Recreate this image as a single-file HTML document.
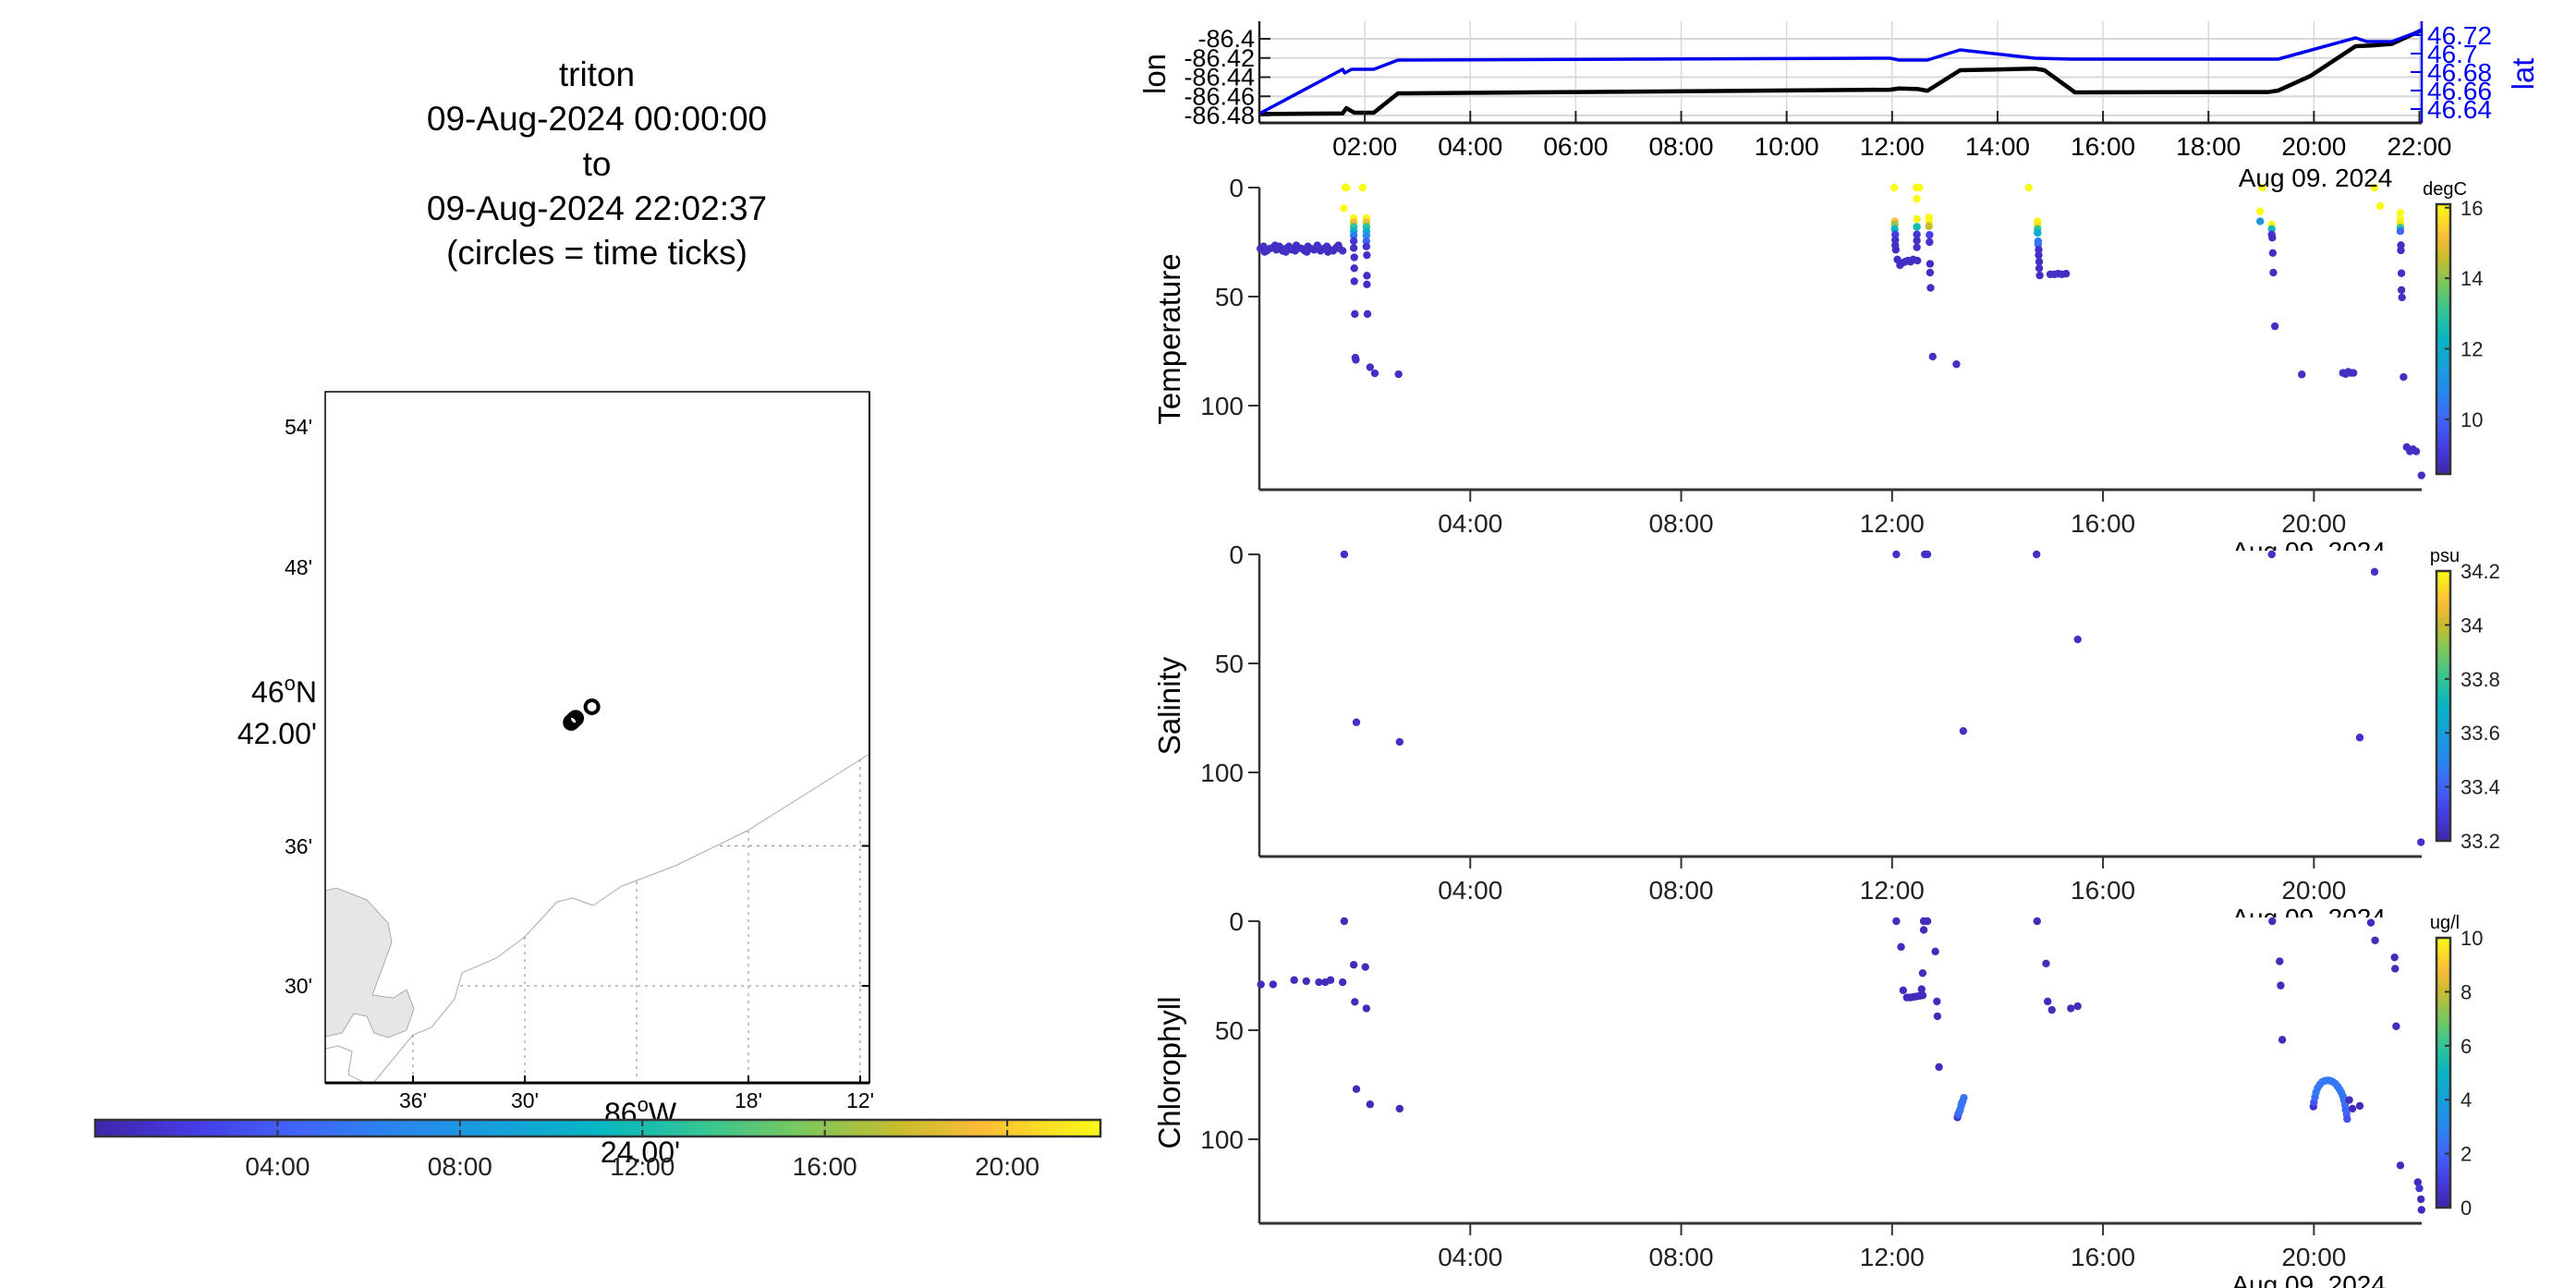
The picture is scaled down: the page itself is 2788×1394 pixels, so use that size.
<!DOCTYPE html>
<html><head><meta charset="utf-8"><title>triton</title>
<style>
html,body{margin:0;padding:0;background:#fff;}
svg{display:block;font-family:"Liberation Sans",Arial,sans-serif;}
</style></head>
<body>
<svg id="fig" width="2788" height="1394" viewBox="0 0 2788 1394" xmlns="http://www.w3.org/2000/svg">
<defs>
<linearGradient id="parH" x1="0" y1="0" x2="1" y2="0"></linearGradient>
<linearGradient id="parV" x1="0" y1="1" x2="0" y2="0"></linearGradient>
</defs>
<g font-size="37" text-anchor="middle" fill="#000">
<text x="646" y="93">triton</text>
<text x="646" y="141">09-Aug-2024 00:00:00</text>
<text x="646" y="190">to</text>
<text x="646" y="238">09-Aug-2024 22:02:37</text>
<text x="646" y="286">(circles = time ticks)</text>
</g>
<g id="map"></g>
<g id="tcb"></g>
<g id="top"></g>
<g id="ptemp"></g>
<g id="psal"></g>
<g id="pchl"></g>
<text x="2506" y="202" font-size="28" text-anchor="middle">Aug 09. 2024</text>
</svg>
<script>
// ---------- data ----------
const lonTimes=[0,1.58,1.65,1.8,2.17,2.63,11.96,12.13,12.49,12.67,13.29,14.71,14.89,15.47,19.14,19.32,19.94,20.79,21.09,21.48,22.04];
const lonVals=[-86.4784,-86.4778,-86.4723,-86.4771,-86.4771,-86.4569,-86.4531,-86.4518,-86.4524,-86.4542,-86.4328,-86.4311,-86.4328,-86.4559,-86.4555,-86.4540,-86.4386,-86.4077,-86.4070,-86.4053,-86.3911];
const latTimes=[0,1.58,1.62,1.75,2.17,2.63,11.96,12.13,12.67,13.29,14.71,15.4,19.32,20.79,21.0,21.48,22.04];
const latVals=[46.635,46.683,46.679,46.683,46.683,46.693,46.695,46.693,46.693,46.704,46.695,46.694,46.694,46.717,46.713,46.713,46.725];
const lonTicks=[-86.4,-86.42,-86.44,-86.46,-86.48];
const lonTickLabels=["-86.4","-86.42","-86.44","-86.46","-86.48"];
const latTicks=[46.72,46.7,46.68,46.66,46.64];
const latTickLabels=["46.72","46.7","46.68","46.66","46.64"];
const topHourTicks=[2,4,6,8,10,12,14,16,18,20,22];
const topHourLabels=["02:00","04:00","06:00","08:00","10:00","12:00","14:00","16:00","18:00","20:00","22:00"];
const panelHourTicks=[4,8,12,16,20];
const panelHourLabels=["04:00","08:00","12:00","16:00","20:00"];
const depthTicks=[0,50,100];

const tempTime=[0.02,0.08,0.14,0.2,0.26,0.32,0.38,0.44,0.5,0.56,0.62,0.68,0.74,0.8,0.86,0.92,0.98,1.04,1.1,1.16,1.22,1.28,1.34,1.4,1.46,1.52,1.58,0.1,0.3,0.5,0.7,0.9,1.1,1.3,1.5,
1.63,1.65,1.6,
1.79,1.79,1.79,1.79,1.79,1.79,1.79,1.8,1.8,1.8,1.81,1.82,1.83,
1.96,2.03,2.03,2.03,2.03,2.03,2.03,2.03,2.04,2.04,2.04,2.05,2.1,2.19,2.64,
12.04,12.05,12.05,12.05,12.06,12.06,12.06,12.07,12.1,12.15,12.2,12.25,12.3,12.35,12.4,
12.46,12.52,12.47,12.47,12.47,12.47,12.47,12.47,12.48,
12.7,12.7,12.7,12.71,12.71,12.72,12.72,12.73,12.77,13.22,
14.59,14.76,14.76,14.76,14.76,14.77,14.77,14.78,14.78,14.79,14.79,14.8,15.0,15.08,15.15,15.22,15.3,
19.02,18.98,18.98,19.2,19.2,19.2,19.21,19.22,19.23,19.26,19.77,20.55,20.6,20.65,20.7,20.75,
21.15,21.26,21.64,21.64,21.64,21.64,21.64,21.65,21.65,21.66,21.66,21.67,21.7,21.76,21.82,21.88,21.94,22.04];
const tempDepth=[28,27,29,28,27.5,28.5,27,29,28,27,28.5,29,27.5,28,29,27,28,28.5,27.5,29,28,27,28.5,29,27.5,28,29,29.5,26.5,29.5,26.5,29.5,26.5,29.5,26.5,
0,0,9.5,
14,16,18,20,22,24.5,27.7,32,37,43,58,78,79,
0,14,16,18,20,22,24.5,27,31,40.4,44.4,58,82.4,85.2,85.6,
0,15.5,17,19,21.5,24,26.5,28.5,33,35.6,34.5,34,33.5,34,33,
0,0,5.2,14.4,18,21.5,24.3,27.4,33.5,
13.7,15.5,17.7,21.7,25,35,39,46,77.5,81,
0,15.5,17,19,20.8,24.6,26,28.5,31,34,37,40.3,39.8,39.8,39.5,39.8,39.5,
0,10.9,15.5,17,19,21.5,23,30,39,63.6,85.7,85,85.5,84.5,85,85,
0,8.5,11.6,14.4,16.5,18.4,20,26.4,28.8,39.3,47,50.4,86.9,119,121,120,121,132];
const tempVal=[8.8,8.8,8.8,8.8,8.8,8.8,8.8,8.8,8.8,8.8,8.8,8.8,8.8,8.8,8.8,8.8,8.8,8.8,8.8,8.8,8.8,8.8,8.8,8.8,8.8,8.8,8.8,8.8,8.8,8.8,8.8,8.8,8.8,8.8,8.8,
16.3,16.3,16.2,
16,15,13,12,10.5,9,8.8,8.8,8.8,8.8,8.8,8.8,8.8,
16.3,16,15,13,12,11,10,8.9,8.8,8.8,8.8,8.8,8.8,8.8,8.8,
16.3,15.2,14.2,12.3,9.2,8.9,8.8,8.8,8.8,8.8,8.8,8.8,8.8,8.8,8.8,
16.3,16.3,16.2,16,12.5,9,8.8,8.8,8.8,
16.1,16,14.5,9.2,8.9,8.8,8.8,8.8,8.8,8.8,
16.3,16,15.8,13,12,10.5,10.3,8.9,8.8,8.8,8.8,8.8,8.8,8.8,8.8,8.8,8.8,
16.3,16.2,11.3,16,12.5,9,8.8,8.8,8.8,8.8,8.8,8.8,8.8,8.8,8.8,8.8,
16.3,16.2,16.2,16.1,15.8,13,10,8.8,8.8,8.8,8.8,8.8,8.8,8.8,8.8,8.8,8.8,8.8];

const salTime=[1.61,1.84,2.66,12.08,12.62,12.67,14.74,15.52,13.35,19.2,21.15,20.87,22.03];
const salDepth=[0,77,86,0,0,0,0,39,81,0,8,84,132];
const salVal=[33.25,33.25,33.25,33.25,33.25,33.25,33.25,33.25,33.25,33.25,33.25,33.25,33.25];

const chlTime=[0.03,0.26,0.66,0.89,1.13,1.25,1.35,1.58,1.61,1.79,2.01,1.81,2.03,1.84,2.1,2.66,
12.08,12.6,12.67,12.6,12.17,12.82,12.58,12.21,12.56,12.28,12.34,12.4,12.46,12.52,12.58,12.85,12.86,12.89,
13.24,13.25,13.26,13.28,13.29,13.31,13.32,13.34,13.36,
14.75,14.92,14.95,15.03,15.39,15.52,
19.21,19.35,19.37,19.4,
19.99,20.0,20.02,20.04,20.07,20.11,20.16,20.21,20.26,20.31,20.36,20.41,20.45,20.49,20.52,20.55,20.57,20.59,20.6,20.62,20.63,
20.67,20.73,20.87,21.08,21.16,21.53,21.54,21.56,21.64,21.97,22.0,22.03,22.04];
const chlDepth=[29,29,27,27.5,28,28,27,28,0,20,21,37,40,77,84,86,
0,0,0,4,11.8,13.9,23.8,31.7,31.2,35,35,34.8,34.5,34.3,34,36.8,43.6,66.9,
90,89,88.1,87.2,86.4,84.6,83.5,82.6,81,
0,19.4,36.8,40.7,40,39,
0,18.4,29.5,54.4,
85,83,80.7,78.5,76.5,75,73.7,73.2,73,73.2,73.7,74.6,75.8,77.2,78.6,80.3,82.2,84.3,86.4,88.5,90.7,
82,86,84.7,0.7,8.8,16.6,21.8,48.2,112,119.7,122.5,127.5,132.4];
const chlVal=[0.3,0.3,0.3,0.3,0.3,0.3,0.3,0.3,0.3,0.3,0.3,0.3,0.3,0.3,0.3,0.3,
0.3,0.3,0.3,0.3,0.3,0.3,0.3,0.3,0.3,0.3,0.3,0.3,0.3,0.3,0.3,0.3,0.3,0.3,
0.6,1.5,2.2,2.4,2.5,2.5,2.5,2.4,2.4,
0.3,0.3,0.3,0.3,0.3,0.3,
0.3,0.3,0.3,0.3,
0.6,1.6,2.3,2.5,2.5,2.6,2.6,2.6,2.6,2.6,2.6,2.6,2.5,2.5,2.5,2.4,2.4,2.3,2.2,2.0,1.5,
0.3,0.3,0.3,0.3,0.3,0.3,0.3,0.3,0.3,0.3,0.6,0.3,0.3];

const mapCircleLon=[-86.4585,-86.4575,-86.4565,-86.4555,-86.4545,-86.4400];
const mapCircleLat=[46.6895,46.6902,46.6910,46.6918,46.6925,46.7007];
const tcbTicks=[4,8,12,16,20];
const tcbLabels=["04:00","08:00","12:00","16:00","20:00"];

// ---------- helpers ----------
const NS="http://www.w3.org/2000/svg";
function mk(tag,attrs,parent){const e=document.createElementNS(NS,tag);for(const k in attrs)e.setAttribute(k,attrs[k]);parent.appendChild(e);return e;}
const par=[[0,[62,38,168]],[0.1,[70,60,230]],[0.2,[65,100,250]],[0.3,[40,135,238]],[0.4,[22,160,220]],[0.5,[5,182,195]],[0.6,[50,197,150]],[0.7,[120,200,95]],[0.8,[200,188,45]],[0.88,[250,188,55]],[1,[249,251,20]]];
function parula(f){f=Math.max(0,Math.min(1,f));for(let i=1;i<par.length;i++){if(f<=par[i][0]){const a=par[i-1],b=par[i];const u=(f-a[0])/(b[0]-a[0]);const c=a[1].map((v,j)=>Math.round(v+(b[1][j]-v)*u));return `rgb(${c[0]},${c[1]},${c[2]})`;}}return "rgb(249,251,20)";}
["parH","parV"].forEach(id=>{const g=document.getElementById(id);par.forEach(p=>{const c=parula(p[0]);mk("stop",{offset:p[0],"stop-color":c},g);});});

const TX0=1363,TX1=2621,TMAX=22.044;
const tx=h=>TX0+(Math.min(h,TMAX))/TMAX*(TX1-TX0);

// ---------- map ----------
(function(){
const g=document.getElementById("map");
const L=352,R=941,T=424,B=1172;
const mx=lonMin=>689+(24-lonMin)/6*121;
const my=latMin=>766-(latMin-42)/6*151;
const lonX=lon=>mx((-lon-86)*60);
const latY=lat=>my((lat-46)*60);
const isl="352,964 364,961 397,974 420,999 424,1020 403,1077 426,1080 440,1071 448,1092 440,1115 420,1123 405,1118 397,1100 383,1097 370,1118 352,1122";
const island=mk("polygon",{points:isl,fill:"#e6e6e6",stroke:"#999","stroke-width":0.8},g);


const coast=mk("polyline",{points:"941,816 809,899 731,937 673,959 642,980 620,972 603,976 568,1014 537,1037 500,1053 492,1081 467,1112 447,1120 405,1171",fill:"none",stroke:"#aaa","stroke-width":1},g);


const c2=mk("polyline",{points:"352,1135 366,1132 381,1138 377,1163 393,1171",fill:"none",stroke:"#aaa","stroke-width":1},g);


const gl=[[779,915.5,941,915.5],[498,1067,941,1067],[568,1014,568,1172],[689,954,689,1172],[810,899,810,1172],[931,822,931,1172],[447,1120,447,1172]];
gl.forEach(a=>{const l=mk("line",{x1:a[0],y1:a[1],x2:a[2],y2:a[3],stroke:"#888","stroke-width":1,"stroke-dasharray":"3,5"},g);});
const box=mk("rect",{x:L,y:T,width:R-L,height:B-T,fill:"none",stroke:"#000","stroke-width":1.5},g);


mk("line",{x1:L,y1:B,x2:R,y2:B,stroke:"#000","stroke-width":3},g);
mk("line",{x1:R,y1:T,x2:R,y2:B,stroke:"#000","stroke-width":2},g);
[[915.5],[1067]].forEach(a=>mk("line",{x1:R-8,y1:a[0],x2:R,y2:a[0],stroke:"#000","stroke-width":2},g));
[447,568,810,931].forEach(x=>mk("line",{x1:x,y1:B-8,x2:x,y2:B,stroke:"#000","stroke-width":2},g));
const latLab=[["54'",462],["48'",614],["36'",916],["30'",1067]];
latLab.forEach(a=>{const t=mk("text",{x:338,y:a[1]+8,"font-size":23,"text-anchor":"end"},g);t.textContent=a[0];});
const lonLab=[["36'",447],["30'",568],["18'",810],["12'",931]];
lonLab.forEach(a=>{const t=mk("text",{x:a[1],y:1199,"font-size":23,"text-anchor":"middle"},g);t.textContent=a[0];});
let t=mk("text",{x:343,y:760,"font-size":32,"text-anchor":"end"},g);t.innerHTML='46<tspan dy="-13" font-size="22">o</tspan><tspan dy="13">N</tspan>';

t=mk("text",{x:343,y:805,"font-size":32,"text-anchor":"end"},g);t.textContent="42.00'";

t=mk("text",{x:693,y:1216,"font-size":32,"text-anchor":"middle"},g);t.innerHTML='86<tspan dy="-13" font-size="22">o</tspan><tspan dy="13">W</tspan>';

for(let i=0;i<mapCircleLon.length;i++){
const c=mk("circle",{cx:lonX(mapCircleLon[i]),cy:latY(mapCircleLat[i]),r:7,fill:"none",stroke:"#000","stroke-width":4},g);


}
})();

// ---------- time colorbar ----------
(function(){
const g=document.getElementById("tcb");
const L=103,R=1191,T=1212,B=1230;
const r=mk("rect",{x:L,y:T,width:R-L,height:B-T,fill:"url(#parH)",stroke:"#333","stroke-width":2.5},g);


const cx=h=>L+h/TMAX*(R-L);
tcbTicks.forEach((h,i)=>{
mk("line",{x1:cx(h),y1:T,x2:cx(h),y2:T+7,stroke:"#333","stroke-width":2},g);
mk("line",{x1:cx(h),y1:B,x2:cx(h),y2:B-7,stroke:"#333","stroke-width":2},g);
const t=mk("text",{x:cx(h),y:1272,"font-size":28,"text-anchor":"middle",fill:"#222"},g);t.textContent=tcbLabels[i];

});
const t=mk("text",{x:693,y:1258,"font-size":32,"text-anchor":"middle"},document.getElementById("map"));t.textContent="24.00'";

})();

// ---------- top lon/lat plot ----------
(function(){
const g=document.getElementById("top");
const T=23,B=133;
const ly=v=>42+(-86.40-v)*1037.5;
const ay=v=>58+(46.70-v)*1000;
lonTicks.forEach(v=>{const l=mk("line",{x1:TX0,y1:ly(v),x2:TX1,y2:ly(v),stroke:"#d8d8d8","stroke-width":2},g);});
topHourTicks.forEach(h=>{const l=mk("line",{x1:tx(h),y1:T,x2:tx(h),y2:B,stroke:"#d8d8d8","stroke-width":1.5},g);});
let p=lonTimes.map((h,i)=>tx(h)+","+ly(lonVals[i])).join(" ");
const lonLine=mk("polyline",{points:p,fill:"none",stroke:"#000","stroke-width":4.5,"stroke-linejoin":"round"},g);


p=latTimes.map((h,i)=>tx(h)+","+ay(latVals[i])).join(" ");
const latLine=mk("polyline",{points:p,fill:"none",stroke:"#0000ee","stroke-width":3.5,"stroke-linejoin":"round"},g);


mk("line",{x1:TX0,y1:T,x2:TX0,y2:B,stroke:"#222","stroke-width":2.5},g);
mk("line",{x1:TX0,y1:B,x2:TX1,y2:B,stroke:"#222","stroke-width":3},g);
mk("line",{x1:TX1,y1:T,x2:TX1,y2:B,stroke:"#0000ee","stroke-width":2.5},g);
lonTicks.forEach((v,i)=>{mk("line",{x1:TX0,y1:ly(v),x2:TX0+12,y2:ly(v),stroke:"#222","stroke-width":2},g);
const t=mk("text",{x:1358,y:ly(v)+9,"font-size":27,"text-anchor":"end"},g);t.textContent=lonTickLabels[i];});
latTicks.forEach((v,i)=>{mk("line",{x1:TX1-12,y1:ay(v),x2:TX1,y2:ay(v),stroke:"#0000ee","stroke-width":2},g);
const t=mk("text",{x:2627,y:ay(v)+10,"font-size":28,fill:"#0000ee"},g);t.textContent=latTickLabels[i];});
topHourTicks.forEach((h,i)=>{mk("line",{x1:tx(h),y1:B,x2:tx(h),y2:B-13,stroke:"#222","stroke-width":2},g);
const t=mk("text",{x:tx(h),y:168,"font-size":28,"text-anchor":"middle"},g);t.textContent=topHourLabels[i];});
let t=mk("text",{x:0,y:0,"font-size":33,"text-anchor":"middle",transform:"translate(1261,80) rotate(-90)"},g);t.textContent="lon";

t=mk("text",{x:0,y:0,"font-size":33,"text-anchor":"middle",fill:"#0000ee",transform:"translate(2742,80) rotate(-90)"},g);t.textContent="lat";

})();

// ---------- scatter panels ----------
function panel(id,top,title,times,depths,vals,vmin,vmax,cbTicks,cbLabels,unit){
const g=document.getElementById(id);
const B=top+327;
const bg=mk("rect",{x:1250,y:top-4,width:1538,height:335,fill:"#fff"},g);


const dy=d=>top+d*2.36;
mk("line",{x1:TX0,y1:top,x2:TX0,y2:B,stroke:"#333","stroke-width":2.5},g);
mk("line",{x1:TX0,y1:B,x2:TX1,y2:B,stroke:"#333","stroke-width":3},g);
depthTicks.forEach(d=>{mk("line",{x1:TX0-12,y1:dy(d),x2:TX0,y2:dy(d),stroke:"#333","stroke-width":2},g);
const t=mk("text",{x:1346,y:dy(d)+10,"font-size":28,"text-anchor":"end",fill:"#222"},g);t.textContent=String(d);});
panelHourTicks.forEach((h,i)=>{mk("line",{x1:tx(h),y1:B,x2:tx(h),y2:B+13,stroke:"#333","stroke-width":2},g);
const t=mk("text",{x:tx(h),y:B+46,"font-size":28,"text-anchor":"middle",fill:"#222"},g);t.textContent=panelHourLabels[i];});
let t=mk("text",{x:tx(19.9),y:B+76,"font-size":28,"text-anchor":"middle"},g);t.textContent="Aug 09. 2024";

t=mk("text",{x:0,y:0,"font-size":33,"text-anchor":"middle",transform:`translate(1277,${top+164}) rotate(-90)`},g);t.textContent=title;

for(let i=0;i<times.length;i++){
const c=mk("circle",{cx:tx(times[i]),cy:dy(depths[i]),r:4.2,fill:parula((vals[i]-vmin)/(vmax-vmin))},g);


}
const cT=top+18,cB=top+310;
const cb=mk("rect",{x:2637,y:cT,width:15,height:cB-cT,fill:"url(#parV)",stroke:"#333","stroke-width":2.5},g);


cbTicks.forEach((v,i)=>{const y=cB-(v-vmin)/(vmax-vmin)*(cB-cT);
mk("line",{x1:2646,y1:y,x2:2652,y2:y,stroke:"#333","stroke-width":2},g);
const t=mk("text",{x:2663,y:y+8,"font-size":22,fill:"#222"},g);t.textContent=cbLabels[i];});
t=mk("text",{x:2646,y:top+8,"font-size":20,"text-anchor":"middle"},g);t.textContent=unit;

}
panel("ptemp",203,"Temperature",tempTime,tempDepth,tempVal,8.45,16.1,[10,12,14,16],["10","12","14","16"],"degC");
panel("psal",600,"Salinity",salTime,salDepth,salVal,33.2,34.2,[33.2,33.4,33.6,33.8,34,34.2],["33.2","33.4","33.6","33.8","34","34.2"],"psu");
panel("pchl",997,"Chlorophyll",chlTime,chlDepth,chlVal,0,10,[0,2,4,6,8,10],["0","2","4","6","8","10"],"ug/l");
</script>
</body></html>
